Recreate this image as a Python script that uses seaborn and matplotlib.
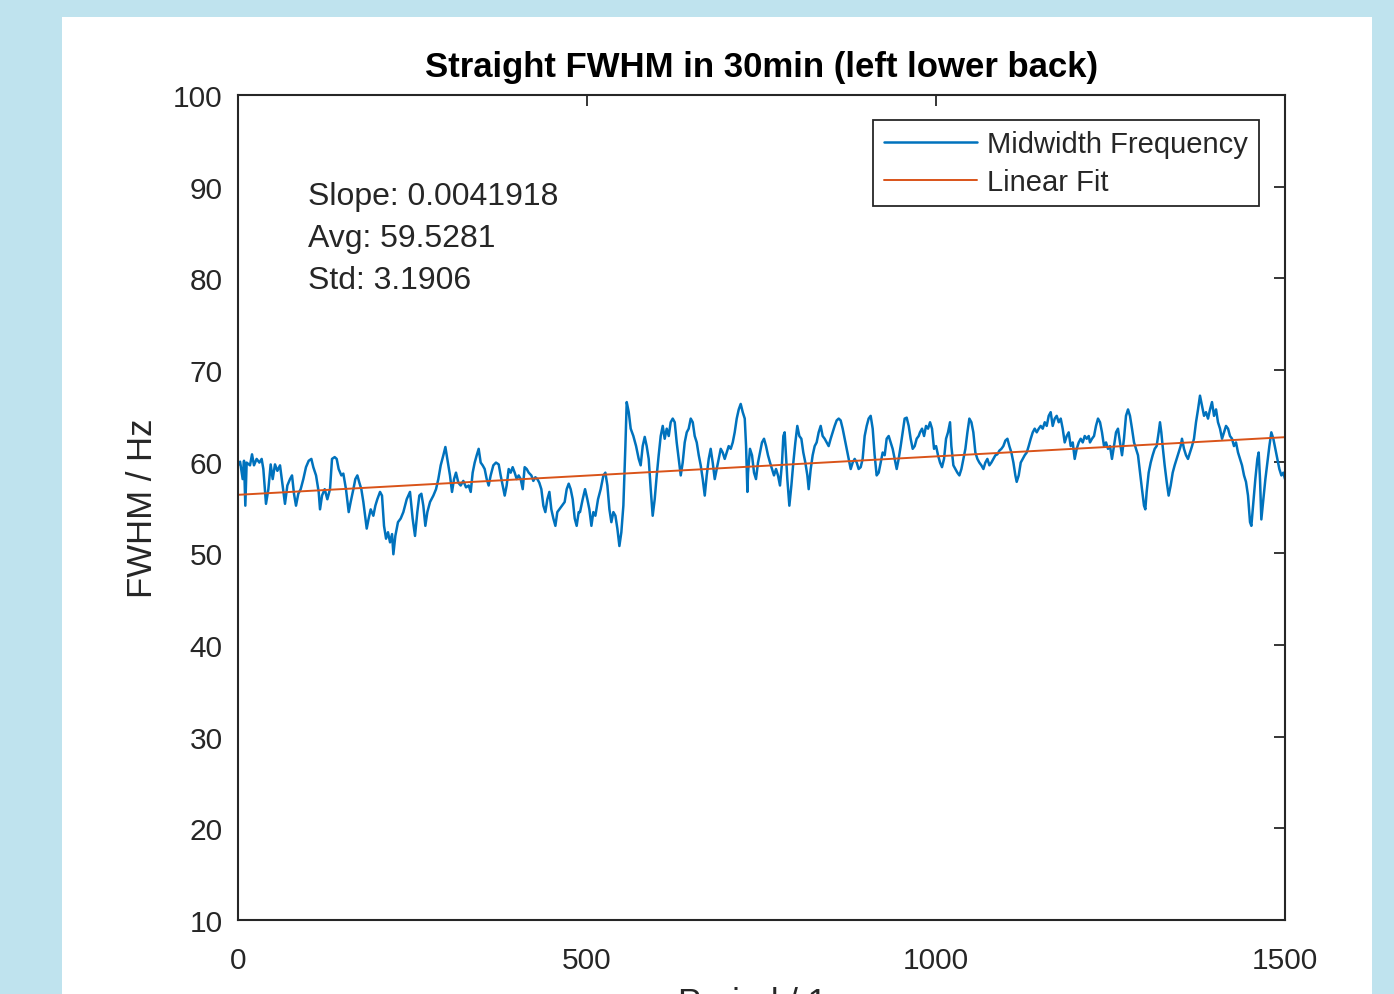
import numpy as np
import pandas as pd
import seaborn as sns
import matplotlib.pyplot as plt
from matplotlib.patches import Rectangle

# Midwidth frequency trace in six pieces (period in s, FWHM in Hz)
seg1_x = [0, 3, 6.7, 8.6, 10.5, 12.4, 17.2, 20.1, 22.9, 26.7, 30.6, 33.9, 36.3, 40.1, 43.5, 46.8, 49.7,
          53.0, 56.4, 60.2, 64.0, 67.3, 70.7, 74.5, 77.4, 80.2, 83.1, 86.4, 89.8, 93.6, 97.4, 101.3,
          105.1, 107.9, 111.8, 115.6, 117.5, 120.4, 124.2, 128.0, 131.8, 134.7, 138.5, 141.4, 144.2,
          148.1, 150.9, 154.7, 158.6, 161.4, 165.3, 168.1, 171.0, 173.9, 176.7, 179.6, 184.4, 187.2,
          190.1, 193.9, 196.8, 199.6, 203.5, 206.3, 209.2, 212.1, 214.9, 217.8, 220.7, 222.6, 225.4,
          229.2, 233.1, 236.9, 241.7, 246.4]
seg1_y = [59.6, 60.0, 58.1, 60.1, 55.2, 59.9, 59.6, 60.8, 59.6, 60.3, 59.9, 60.3, 59.2, 55.4, 57.0, 59.7,
          58.1, 59.7, 59.0, 59.6, 57.4, 55.4, 57.4, 58.1, 58.5, 56.5, 55.2, 56.5, 57.0, 58.1, 59.4, 60.1,
          60.3, 59.4, 58.5, 56.7, 54.8, 56.3, 57.0, 55.9, 57.0, 60.3, 60.5, 60.3, 59.2, 58.5, 58.7, 57.0,
          54.5, 55.6, 57.0, 58.1, 58.5, 57.7, 57.0, 55.6, 52.7, 53.8, 54.8, 54.1, 55.2, 55.9, 56.7, 56.3,
          53.0, 51.6, 52.3, 51.2, 52.1, 49.9, 51.9, 53.4, 53.8, 54.5, 55.9, 56.7]

seg2_x = [250.2, 253.6, 256.9, 259.8, 262.7, 265.5, 268.4, 271.3, 275.1, 279.9, 283.7, 287.0, 290.4,
          294.2, 297.1, 299.9, 303.7, 306.6, 309.5, 312.3, 315.7, 319.0, 322.8, 326.7, 330.5, 333.4,
          336.2, 339.1, 342.0, 344.8, 347.7, 350.5, 353.4, 356.3, 359.1, 362.0, 365.8, 369.6, 373.5,
          376.3, 379.2, 382.1, 384.9, 387.8, 390.7, 393.5, 396.4, 399.3, 402.1, 405.0, 407.9, 410.7,
          413.6, 416.5, 420.3, 423.1, 426.0, 428.9, 431.7, 434.6, 437.5, 440.3, 443.2, 446.1, 448.9,
          451.8, 454.7, 457.5, 460.4, 464.2, 468.0, 470.9, 473.8, 476.6, 479.5, 482.4, 485.2, 488.1]
seg2_y = [53.8, 51.9, 54.5, 56.3, 56.5, 55.2, 53.0, 54.5, 55.6, 56.3, 57.0, 58.1, 59.6, 60.7, 61.6, 60.3,
          58.5, 56.7, 58.1, 58.8, 57.7, 57.4, 57.9, 57.2, 57.4, 56.7, 58.8, 59.9, 60.7, 61.4, 59.9, 59.6,
          59.2, 58.1, 57.4, 58.5, 59.6, 59.9, 59.7, 58.5, 57.4, 56.3, 57.4, 59.2, 58.8, 59.4, 58.8, 58.1,
          58.5, 58.1, 57.0, 59.4, 59.2, 58.8, 58.5, 57.9, 58.3, 58.1, 57.7, 57.0, 55.2, 54.5, 55.9, 56.7,
          54.8, 53.8, 53.0, 54.5, 54.8, 55.2, 55.6, 57.0, 57.6, 57.0, 55.9, 53.8, 53.0, 54.5]

seg3_x = [490.0, 493.8, 497.2, 500.5, 503.4, 506.3, 509.1, 512.0, 515.8, 519.6, 523.5, 526.3, 529.2,
          532.1, 534.9, 537.8, 540.7, 543.5, 546.4, 549.2, 552.1, 555.0, 556.9, 559.8, 562.6, 566.4,
          570.3, 574.1, 576.9, 579.8, 582.7, 585.5, 588.4, 591.3, 594.1, 597.0, 599.9, 602.7, 605.6,
          608.5, 611.3, 614.2, 617.1, 619.9, 622.8, 625.7, 628.5, 631.4, 634.3, 637.1, 640.0, 642.9,
          645.7, 648.6, 651.5, 654.3, 657.2, 660.1, 662.9, 665.8, 668.7, 671.5, 674.4, 677.2, 680.1,
          683.0, 685.8, 688.7, 691.6, 694.4, 697.3, 700.2, 703.0, 705.9, 708.8, 711.6, 714.5, 717.4,
          720.2, 723.1, 726.0, 727.9, 729.8]
seg3_y = [54.5, 55.9, 57.0, 55.9, 54.8, 53.0, 54.5, 54.1, 55.9, 57.0, 58.5, 58.8, 57.4, 54.8, 53.4, 54.5,
          54.1, 52.7, 50.8, 52.3, 55.2, 61.7, 66.5, 65.4, 63.6, 62.8, 61.7, 60.3, 59.6, 61.7, 62.7, 61.7,
          60.3, 57.0, 54.1, 55.9, 58.5, 60.7, 62.8, 63.9, 62.5, 63.6, 62.8, 64.3, 64.7, 64.3, 62.1, 60.3,
          58.5, 59.9, 62.1, 63.2, 63.6, 64.7, 64.3, 62.8, 62.1, 60.7, 59.6, 58.1, 56.3, 58.5, 60.3, 61.4,
          59.9, 58.1, 59.2, 60.3, 61.4, 61.0, 60.3, 61.0, 61.7, 61.4, 62.1, 63.2, 64.7, 65.7, 66.3, 65.4,
          64.7, 61.7, 56.7]

seg4_x = [730.7, 733.5, 736.4, 739.3, 742.1, 745.0, 747.9, 750.7, 753.6, 756.5, 759.3, 762.2, 765.0,
          767.9, 770.8, 773.6, 776.5, 779.4, 781.3, 783.2, 785.1, 787.0, 789.9, 792.8, 795.6, 798.5,
          801.3, 804.2, 807.1, 809.9, 812.8, 815.7, 817.6, 820.5, 823.3, 826.2, 829.0, 831.9, 834.8,
          837.6, 840.5, 843.4, 846.2, 849.1, 852.0, 854.8, 857.7, 860.6, 863.4, 866.3, 869.2, 872.0,
          874.9, 877.8, 880.6, 883.5, 886.4, 889.2, 892.1, 894.9, 897.8, 900.7, 903.5, 906.4, 909.3,
          912.1, 915.0, 917.9, 920.7, 923.6, 926.5, 929.3, 932.2, 935.1, 937.9, 940.8, 943.7, 946.5,
          949.4, 952.3, 955.1, 958.0, 960.9, 963.7, 966.6, 969.5, 972.3, 975.2]
seg4_y = [58.8, 61.4, 60.7, 58.8, 58.1, 59.9, 61.0, 62.1, 62.5, 61.7, 60.7, 59.9, 59.2, 58.5, 59.2, 58.5,
          57.4, 59.9, 62.8, 63.2, 60.7, 58.1, 55.2, 57.4, 59.9, 62.1, 63.9, 62.8, 62.5, 61.0, 59.9, 58.5,
          57.0, 59.2, 60.7, 61.7, 62.1, 63.2, 63.9, 62.8, 62.5, 62.1, 61.7, 62.5, 63.2, 63.9, 64.5, 64.7,
          64.5, 63.6, 62.5, 61.4, 60.3, 59.2, 59.9, 60.3, 59.9, 59.2, 59.4, 60.3, 62.8, 63.9, 64.7, 65.0,
          63.6, 60.7, 58.5, 58.8, 59.9, 61.0, 60.7, 62.5, 62.8, 62.1, 61.4, 60.3, 59.2, 60.3, 61.7, 63.2,
          64.7, 64.8, 63.9, 62.5, 61.4, 61.7, 62.5, 62.8]

seg5_x = [977.1, 980.0, 982.9, 985.7, 988.6, 991.5, 994.3, 997.2, 1000.1, 1002.9, 1005.8, 1008.6, 1011.5,
          1014.4, 1017.2, 1020.1, 1022.0, 1024.9, 1027.8, 1030.6, 1033.5, 1036.4, 1039.2, 1042.1, 1045.0,
          1047.8, 1050.7, 1053.5, 1056.4, 1059.3, 1062.1, 1065.0, 1067.9, 1070.7, 1073.6, 1076.5, 1079.3,
          1082.2, 1085.1, 1087.9, 1090.8, 1093.7, 1096.5, 1099.4, 1102.3, 1105.1, 1108.0, 1110.9, 1113.7,
          1115.6, 1118.5, 1121.4, 1124.2, 1127.1, 1130.0, 1132.8, 1135.7, 1138.6, 1141.4, 1144.3, 1147.2,
          1150.0, 1152.9, 1155.8, 1158.6, 1161.5, 1164.3, 1167.2, 1170.1, 1172.9, 1175.8, 1178.7, 1181.5,
          1184.4, 1187.3, 1190.1, 1193.0, 1195.9, 1198.7, 1201.6, 1204.5, 1207.3, 1210.2, 1213.1, 1215.9,
          1218.8]
seg5_y = [63.2, 63.6, 62.8, 63.9, 63.6, 64.3, 63.6, 61.4, 61.7, 60.7, 59.9, 59.4, 60.3, 62.5, 63.2, 64.3,
          61.7, 59.6, 59.2, 58.8, 58.5, 59.2, 60.3, 61.4, 63.2, 64.7, 64.3, 63.2, 61.0, 60.3, 59.9, 59.6,
          59.2, 59.9, 60.3, 59.6, 59.9, 60.3, 60.7, 60.8, 61.2, 61.4, 61.7, 62.3, 62.5, 61.7, 61.0, 59.9,
          58.5, 57.8, 58.5, 59.9, 60.3, 60.7, 61.0, 61.7, 62.5, 63.2, 63.6, 63.2, 63.6, 63.9, 63.6, 64.3,
          63.9, 65.0, 65.4, 63.9, 64.7, 65.0, 64.3, 64.7, 63.6, 62.1, 62.8, 63.2, 61.7, 62.1, 60.3, 61.4,
          62.1, 62.5, 62.1, 62.8, 62.5, 62.8]

seg6_x = [1220.6, 1223.5, 1226.4, 1229.2, 1232.1, 1235.0, 1237.8, 1240.7, 1243.6, 1246.4, 1249.3, 1252.1,
          1255.0, 1257.9, 1260.7, 1263.6, 1266.5, 1269.3, 1272.2, 1275.1, 1277.9, 1280.8, 1283.7, 1286.5,
          1289.4, 1292.3, 1295.1, 1298.0, 1299.9, 1301.8, 1304.7, 1307.6, 1310.4, 1313.3, 1316.1, 1319.0,
          1320.9, 1322.8, 1324.7, 1327.6, 1330.5, 1333.3, 1336.2, 1339.1, 1341.9, 1344.8, 1347.7, 1350.5,
          1352.4, 1355.3, 1358.2, 1361.0, 1363.9, 1366.8, 1369.6, 1372.5, 1375.4, 1378.2, 1381.1, 1384.0,
          1386.8, 1389.7, 1392.6, 1395.4, 1398.3, 1401.2, 1404.0, 1406.9, 1409.8, 1412.6, 1415.5, 1418.4,
          1421.2, 1424.1, 1426.9, 1429.8, 1432.7, 1435.5, 1438.4, 1441.3, 1444.1, 1447.0, 1449.9, 1451.8,
          1454.7, 1457.5, 1460.4, 1462.3, 1464.2, 1466.1, 1469.0, 1471.9, 1474.7, 1477.6, 1480.4, 1483.3,
          1486.2, 1489.0, 1491.9, 1494.8, 1497.6, 1500.0]
seg6_y = [62.1, 62.5, 62.8, 63.9, 64.7, 64.3, 63.2, 61.7, 62.1, 61.4, 61.7, 60.3, 61.7, 63.2, 63.6, 62.1,
          60.7, 62.5, 65.0, 65.7, 65.0, 63.6, 62.1, 61.4, 60.7, 58.8, 57.0, 55.2, 54.8, 56.7, 58.8, 59.9,
          60.7, 61.4, 61.7, 63.2, 64.3, 63.2, 61.7, 59.6, 57.8, 56.3, 57.4, 58.8, 59.6, 60.3, 61.0, 61.7,
          62.5, 61.4, 60.7, 60.3, 61.0, 61.7, 62.5, 64.3, 65.7, 67.2, 66.1, 65.0, 65.4, 64.7, 65.7, 66.5,
          65.0, 65.7, 64.3, 63.6, 62.5, 63.2, 63.9, 63.6, 62.8, 62.5, 61.7, 62.1, 61.0, 60.3, 59.6, 58.5,
          57.8, 56.3, 53.4, 53.0, 55.6, 58.1, 60.3, 61.0, 58.1, 53.7, 55.9, 58.1, 59.9, 61.7, 63.2, 62.5,
          61.4, 60.3, 59.2, 58.5, 58.8, 58.1]

# stats printed on the chart
slope = 0.0041918
avg = 59.5281
std = 3.1906

x_ticks = [0, 500, 1000, 1500]
y_ticks = [10, 20, 30, 40, 50, 60, 70, 80, 90, 100]

period = np.concatenate([seg1_x, seg2_x, seg3_x, seg4_x, seg5_x, seg6_x])
fwhm = np.concatenate([seg1_y, seg2_y, seg3_y, seg4_y, seg5_y, seg6_y])
df = pd.DataFrame({"Period": period, "FWHM": fwhm})

# linear fit through the mean at the middle of the window
intercept = avg - slope * 750
fit = pd.DataFrame({"Period": [x_ticks[0], x_ticks[-1]]})
fit["FWHM"] = intercept + slope * fit["Period"]

sns.set_theme(style="white")
plt.rcParams["font.family"] = ["Liberation Sans", "DejaVu Sans"]

fig = plt.figure(figsize=(13.94, 9.95), dpi=100)
fig.patch.set_facecolor("#bfe3ee")
# white panel sitting on the light blue page
fig.patches.append(Rectangle((62 / 1394, 0), (1372 - 62) / 1394, 1 - 18 / 995,
                             transform=fig.transFigure, facecolor="white",
                             edgecolor="none", zorder=-10))

ax = fig.add_axes([238 / 1394, 74 / 995, 1047 / 1394, 825 / 995])
ax.set_facecolor("white")

sns.lineplot(data=df, x="Period", y="FWHM", ax=ax, color="#0072BD", linewidth=1.8,
             label="Midwidth Frequency", estimator=None, sort=False)
sns.lineplot(data=fit, x="Period", y="FWHM", ax=ax, color="#D95319", linewidth=1.4,
             label="Linear Fit", estimator=None)

ax.set_xlim(x_ticks[0], x_ticks[-1])
ax.set_ylim(y_ticks[0], y_ticks[-1])
ax.set_xticks(x_ticks)
ax.set_yticks(y_ticks)
ax.tick_params(direction="in", length=8, width=1.3, top=True, right=True,
               labelsize=21.5, labelcolor="#262626", color="#262626")
ax.tick_params(axis="x", pad=18.5)
ax.tick_params(axis="y", pad=11)
for s in ax.spines.values():
    s.set_linewidth(1.5)
    s.set_color("#262626")

ax.set_title("Straight FWHM in 30min (left lower back)", fontsize=25,
             fontweight="bold", pad=14, color="black")
ax.set_ylabel("FWHM / Hz", fontsize=25, labelpad=10, color="#262626")
# the x label sits mostly below the bottom edge of the page, as in the original
ax.set_xlabel("Period / 1s", fontsize=25, labelpad=9, color="#262626")

stats = [f"Slope: {slope}", f"Avg: {avg}", f"Std: {std}"]
for i, line in enumerate(stats):
    ax.text(0.067, 0.877 - i * 0.0505, line, transform=ax.transAxes,
            fontsize=23, va="center", ha="left", color="#262626")

leg = ax.legend(loc="upper right", bbox_to_anchor=(0.975, 0.970), borderaxespad=0,
                fontsize=21, handlelength=3.2, handletextpad=0.35, labelspacing=0.33,
                borderpad=0.36, frameon=True, fancybox=False, edgecolor="#262626",
                framealpha=1)
leg.get_frame().set_linewidth(1.3)

fig.savefig("out.png", dpi=100, facecolor=fig.get_facecolor())
